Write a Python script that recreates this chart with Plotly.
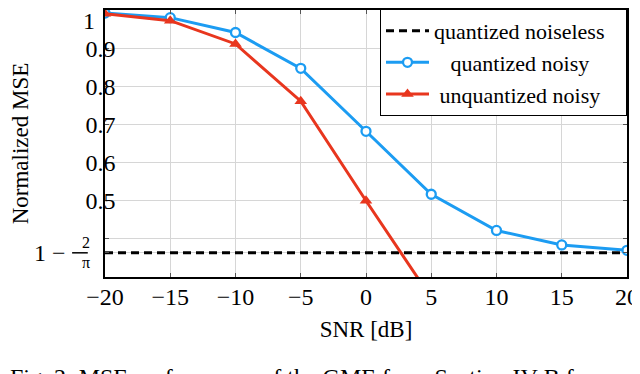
import plotly.graph_objects as go

# data
snr = [-20, -15, -10, -5, 0, 5, 10, 15, 20]
quant_noisy = [0.992, 0.980, 0.941, 0.847, 0.682, 0.517, 0.422, 0.384, 0.370]
unquant_noisy = [0.990, 0.972, 0.911, 0.761, 0.500, 0.245]
noiseless_level = 1 - 2 / 3.141592653589793

y_ticks = [noiseless_level, 0.4, 0.5, 0.6, 0.7, 0.8, 0.9, 1.0]
y_labels = ["", "", "0.5", "0.6", "0.7", "0.8", "0.9", ""]
x_ticks = [-20, -15, -10, -5, 0, 5, 10, 15, 20]
x_labels = ["−20", "−15", "−10", "−5", "0", "5", "10", "15", "20"]

FONT = "Liberation Serif"
BLUE = "#1c9cf2"
RED = "#e8361e"
NB = "\u00a0"

fig = go.Figure()
fig.add_trace(go.Scatter(
    x=[snr[0], snr[-1]], y=[noiseless_level, noiseless_level], mode="lines",
    line=dict(color="black", width=3, dash="8px,5px"),
    name="quantized noiseless" + NB * 3))
fig.add_trace(go.Scatter(
    x=snr, y=quant_noisy, mode="lines+markers",
    line=dict(color=BLUE, width=3),
    marker=dict(symbol="circle", size=9, color="white", line=dict(width=2.3, color=BLUE)),
    name=NB * 3 + "quantized noisy"))
fig.add_trace(go.Scatter(
    x=snr[:len(unquant_noisy)], y=unquant_noisy, mode="lines+markers",
    line=dict(color=RED, width=3),
    marker=dict(symbol="triangle-up", size=11, color=RED),
    name=NB + "unquantized noisy"))

# page body has an 8px margin, so the figure is a bit smaller and shifted
fig.update_layout(
    width=632, height=366,
    margin=dict(l=97, r=13, t=2, b=97, autoexpand=False),
    paper_bgcolor="white", plot_bgcolor="white",
    font=dict(family=FONT, size=23, color="black"),
    legend=dict(x=1, y=1.004, xanchor="right", yanchor="top",
                bgcolor="white", bordercolor="black", borderwidth=1,
                font=dict(size=22), itemwidth=43, tracegroupgap=0),
    showlegend=True,
)

fig.update_xaxes(
    range=[-20, 20], tickvals=x_ticks, ticktext=x_labels,
    showgrid=True, gridcolor="#d6d6d6", gridwidth=1, zeroline=False,
    showline=True, linecolor="black", linewidth=1.5, mirror="ticks",
    ticks="inside", ticklen=4, tickcolor="#555555", automargin=False,
    tickfont=dict(size=24), ticklabelstandoff=-3, ticklabeloverflow="allow",
    title=dict(text="SNR [dB]", font=dict(size=23), standoff=12))

fig.update_yaxes(
    range=[0.3, 1.0], tickvals=y_ticks, ticktext=y_labels,
    showgrid=True, gridcolor="#d6d6d6", gridwidth=1, zeroline=False,
    showline=True, linecolor="black", linewidth=1.5, mirror="ticks",
    ticks="inside", ticklen=4, tickcolor="#555555", automargin=False,
    tickfont=dict(size=24), ticklabelstandoff=-17, ticklabeloverflow="allow",
    title=dict(text="Normalized MSE", font=dict(size=23), standoff=51))

# top tick label "1", kept just inside the page top
fig.add_annotation(text="1", xref="paper", yref="paper", x=-0.015, y=1.015,
                   xanchor="right", yanchor="top", showarrow=False,
                   font=dict(size=24))

# extra tick label 1 − 2/π with a stacked fraction
fig.add_annotation(text="1 −", xref="paper", yref="y", x=-0.071, y=noiseless_level,
                   xanchor="right", showarrow=False, font=dict(size=24))
fig.add_annotation(text="2", xref="paper", yref="y", x=-0.048, y=noiseless_level,
                   yshift=10, showarrow=False, font=dict(size=16))
fig.add_annotation(text="π", xref="paper", yref="y", x=-0.048, y=noiseless_level,
                   yshift=-10, showarrow=False, font=dict(size=16))
fig.add_shape(type="line", xref="paper", yref="y", x0=-0.063, x1=-0.033,
              y0=noiseless_level, y1=noiseless_level,
              line=dict(color="black", width=1.5))

# figure caption, cut off by the page edge
fig.add_annotation(text="Fig. 2: MSE performance of the GME from Section IV-B for",
                   xref="paper", yref="paper", x=-0.186, y=-0.318,
                   xanchor="left", yanchor="top", showarrow=False,
                   font=dict(size=24))

fig.write_html("out.html")
